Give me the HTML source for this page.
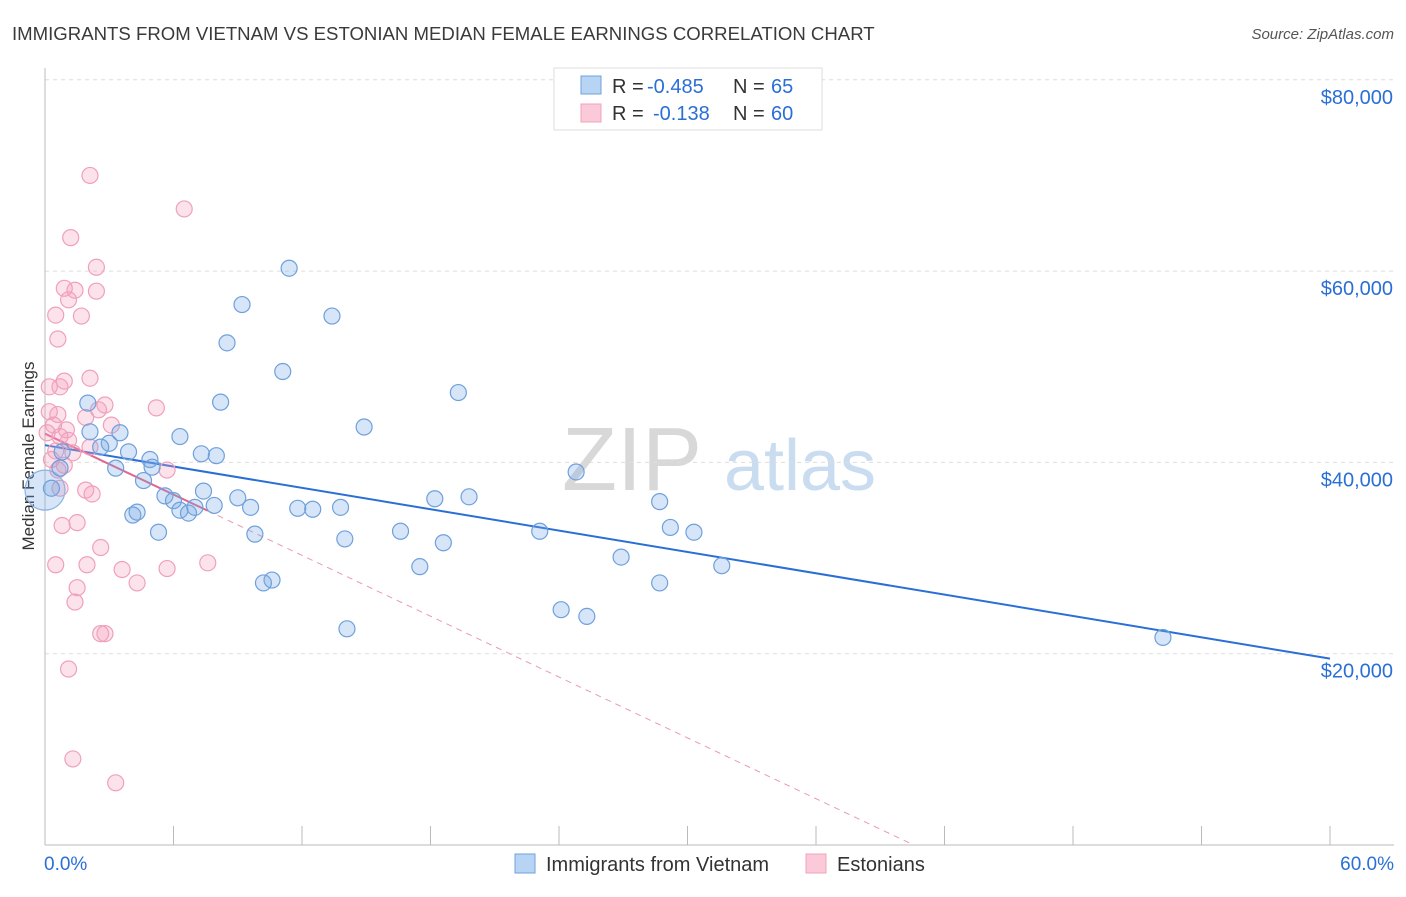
<!DOCTYPE html>
<html><head><meta charset="utf-8"><style>
body{margin:0;background:#fff;font-family:"Liberation Sans",sans-serif}
svg text{font-family:"Liberation Sans",sans-serif}
</style></head><body>
<svg id="chart" width="1406" height="892" xmlns="http://www.w3.org/2000/svg">
<text x="12" y="40" font-size="18.6" fill="#3a3a3a">IMMIGRANTS FROM VIETNAM VS ESTONIAN MEDIAN FEMALE EARNINGS CORRELATION CHART</text>
<text x="1394" y="39" font-size="15" fill="#555" text-anchor="end" font-style="italic">Source: ZipAtlas.com</text>
<text transform="translate(34,456) rotate(-90)" font-size="17" fill="#333" text-anchor="middle">Median Female Earnings</text>
<g><text x="632" y="490" font-size="90" fill="#d8d8d8" font-family="Liberation Serif" text-anchor="middle">ZIP</text><text x="800" y="490" font-size="72" fill="#c9dcf0" text-anchor="middle">atlas</text></g>
<g id="grid"></g><g id="axes"></g><g id="trends"></g><g id="pts"></g>
<g>
<rect x="554" y="68" width="268" height="62" fill="#fff" stroke="#ddd"/>
<rect x="581" y="76" width="20" height="18" fill="#b8d4f4" stroke="#6fa0dc"/>
<rect x="581" y="104" width="20" height="18" fill="#fbcad9" stroke="#f0a0bc"/>
<text y="93" font-size="20" fill="#333"><tspan x="612">R =</tspan><tspan x="647" fill="#2a6fd6">-0.485</tspan><tspan x="733">N =</tspan><tspan x="771" fill="#2a6fd6">65</tspan></text>
<text y="120" font-size="20" fill="#333"><tspan x="612">R =</tspan><tspan x="653" fill="#2a6fd6">-0.138</tspan><tspan x="733">N =</tspan><tspan x="771" fill="#2a6fd6">60</tspan></text>
</g>
<g>
<rect x="515" y="854" width="20" height="19" fill="#b8d4f4" stroke="#6fa0dc"/>
<text x="546" y="871" font-size="20" fill="#333">Immigrants from Vietnam</text>
<rect x="806" y="854" width="20" height="19" fill="#fbcad9" stroke="#f0a0bc"/>
<text x="837" y="871" font-size="20" fill="#333">Estonians</text>
</g>
</svg>
<script>
const yTicks=[20000,40000,60000,80000];
const yTickLabels=["$20,000","$40,000","$60,000","$80,000"];
const xTickLabels=["0.0%","60.0%"];
const blueX=[11.4,9.2,13.4,8.5,11.1,19.3,8.2,2.0,14.9,3.5,6.3,2.1,3.0,2.6,0.8,3.9,7.3,8.0,4.9,5.0,3.3,0.7,24.8,4.6,0.3,5.6,7.4,9.0,18.2,19.8,6.0,28.7,7.9,9.6,11.8,12.5,13.8,6.3,6.7,7.0,4.1,4.3,29.2,30.3,5.3,16.6,23.1,9.8,14.0,18.6,26.9,17.5,31.6,10.6,10.2,28.7,24.1,25.3,14.1,52.2];
const blueY=[60300,56500,55300,52500,49500,47300,46300,46200,43700,43100,42700,43200,42000,41600,41100,41100,40900,40700,40300,39500,39400,39400,39000,38100,37300,36500,37000,36300,36200,36400,36000,35900,35500,35300,35200,35100,35300,35000,34700,35300,34500,34800,33200,32700,32700,32800,32800,32500,32000,31600,30100,29100,29200,27700,27400,27400,24600,23900,22600,21700];
const pinkX=[2.1,6.5,1.2,2.4,0.9,2.4,1.4,1.1,1.7,0.5,0.6,2.1,0.9,0.7,0.2,2.8,5.2,2.5,0.6,0.2,1.9,3.1,0.4,1.0,0.1,0.7,1.1,2.1,0.5,1.3,0.3,0.9,5.7,0.6,0.7,1.9,2.2,0.8,1.5,2.6,0.5,1.96,7.6,3.6,5.7,4.3,1.5,1.4,2.6,2.8,1.1,1.3,3.3];
const pinkY=[70000,66500,63500,60400,58200,57900,58000,57000,55300,55400,52900,48800,48500,47900,47900,46000,45700,45500,45000,45300,44700,43900,43900,43400,43100,42700,42300,41600,41200,41000,40300,39700,39200,39200,37300,37100,36700,33400,33700,31100,29300,29300,29500,28800,28900,27400,26900,25400,22100,22100,18400,9000,6500];
const blueTrend=[41800,-372];
const pinkTrend=[43000,-1060];
const pinkSolidEnd=7.6;
const NS="http://www.w3.org/2000/svg";
const X=v=>45+v*(1330-45)/60, Y=v=>845-v*191.3/20000;
function mk(t,a,p){const e=document.createElementNS(NS,t);for(const k in a)e.setAttribute(k,a[k]);document.getElementById(p).appendChild(e);return e;}
yTicks.forEach((t,i)=>{
 const l=mk('line',{x1:45,x2:1394,y1:Y(t),y2:Y(t),stroke:'#ddd','stroke-dasharray':'4,4'},'grid');
 
 
 const tx=mk('text',{x:1393,y:Y(t)+24,'font-size':20,fill:'#2a6fd6','text-anchor':'end'},'axes');tx.textContent=yTickLabels[i];
 
 
});
const ax=mk('line',{x1:45,x2:1394,y1:845,y2:845,stroke:'#bbb'},'axes');


const ay=mk('line',{x1:45,x2:45,y1:68,y2:845,stroke:'#bbb'},'axes');


for(let i=0;i<=10;i++){const tk=mk('line',{x1:X(i*6),x2:X(i*6),y1:826,y2:845,stroke:'#bbb'},'axes');
 
 }
[[0,44,'start'],[60,1394,'end']].forEach((a,i)=>{const t=mk('text',{x:a[1],y:870,'font-size':19,fill:'#2a6fd6','text-anchor':a[2]},'axes');t.textContent=xTickLabels[i];
 
 });
const bt=mk('line',{x1:X(0),y1:Y(blueTrend[0]),x2:X(60),y2:Y(blueTrend[0]+60*blueTrend[1]),stroke:'#2a6fd6','stroke-width':2},'trends');


const xz=-pinkTrend[0]/pinkTrend[1];
const pd=mk('line',{x1:X(pinkSolidEnd),y1:Y(pinkTrend[0]+pinkSolidEnd*pinkTrend[1]),x2:X(xz),y2:Y(0),stroke:'#e89ab4','stroke-width':1,'stroke-dasharray':'6,5'},'trends');


const ps=mk('line',{x1:X(0),y1:Y(pinkTrend[0]),x2:X(pinkSolidEnd),y2:Y(pinkTrend[0]+pinkSolidEnd*pinkTrend[1]),stroke:'#e0668f','stroke-width':2},'trends');


pinkX.forEach((v,i)=>{const c=mk('circle',{cx:X(v),cy:Y(pinkY[i]),r:8,fill:'rgba(244,160,190,0.3)',stroke:'#f0a0bc','stroke-width':1.2},'pts');
 
 });
const big=mk('circle',{cx:X(0),cy:Y(37100),r:20,fill:'rgba(120,170,230,0.3)',stroke:'#8ab4e4','stroke-width':1.2},'pts');


blueX.forEach((v,i)=>{const c=mk('circle',{cx:X(v),cy:Y(blueY[i]),r:8,fill:'rgba(120,170,230,0.3)',stroke:'#6fa0dc','stroke-width':1.2},'pts');
 
 });
</script>
</body></html>
